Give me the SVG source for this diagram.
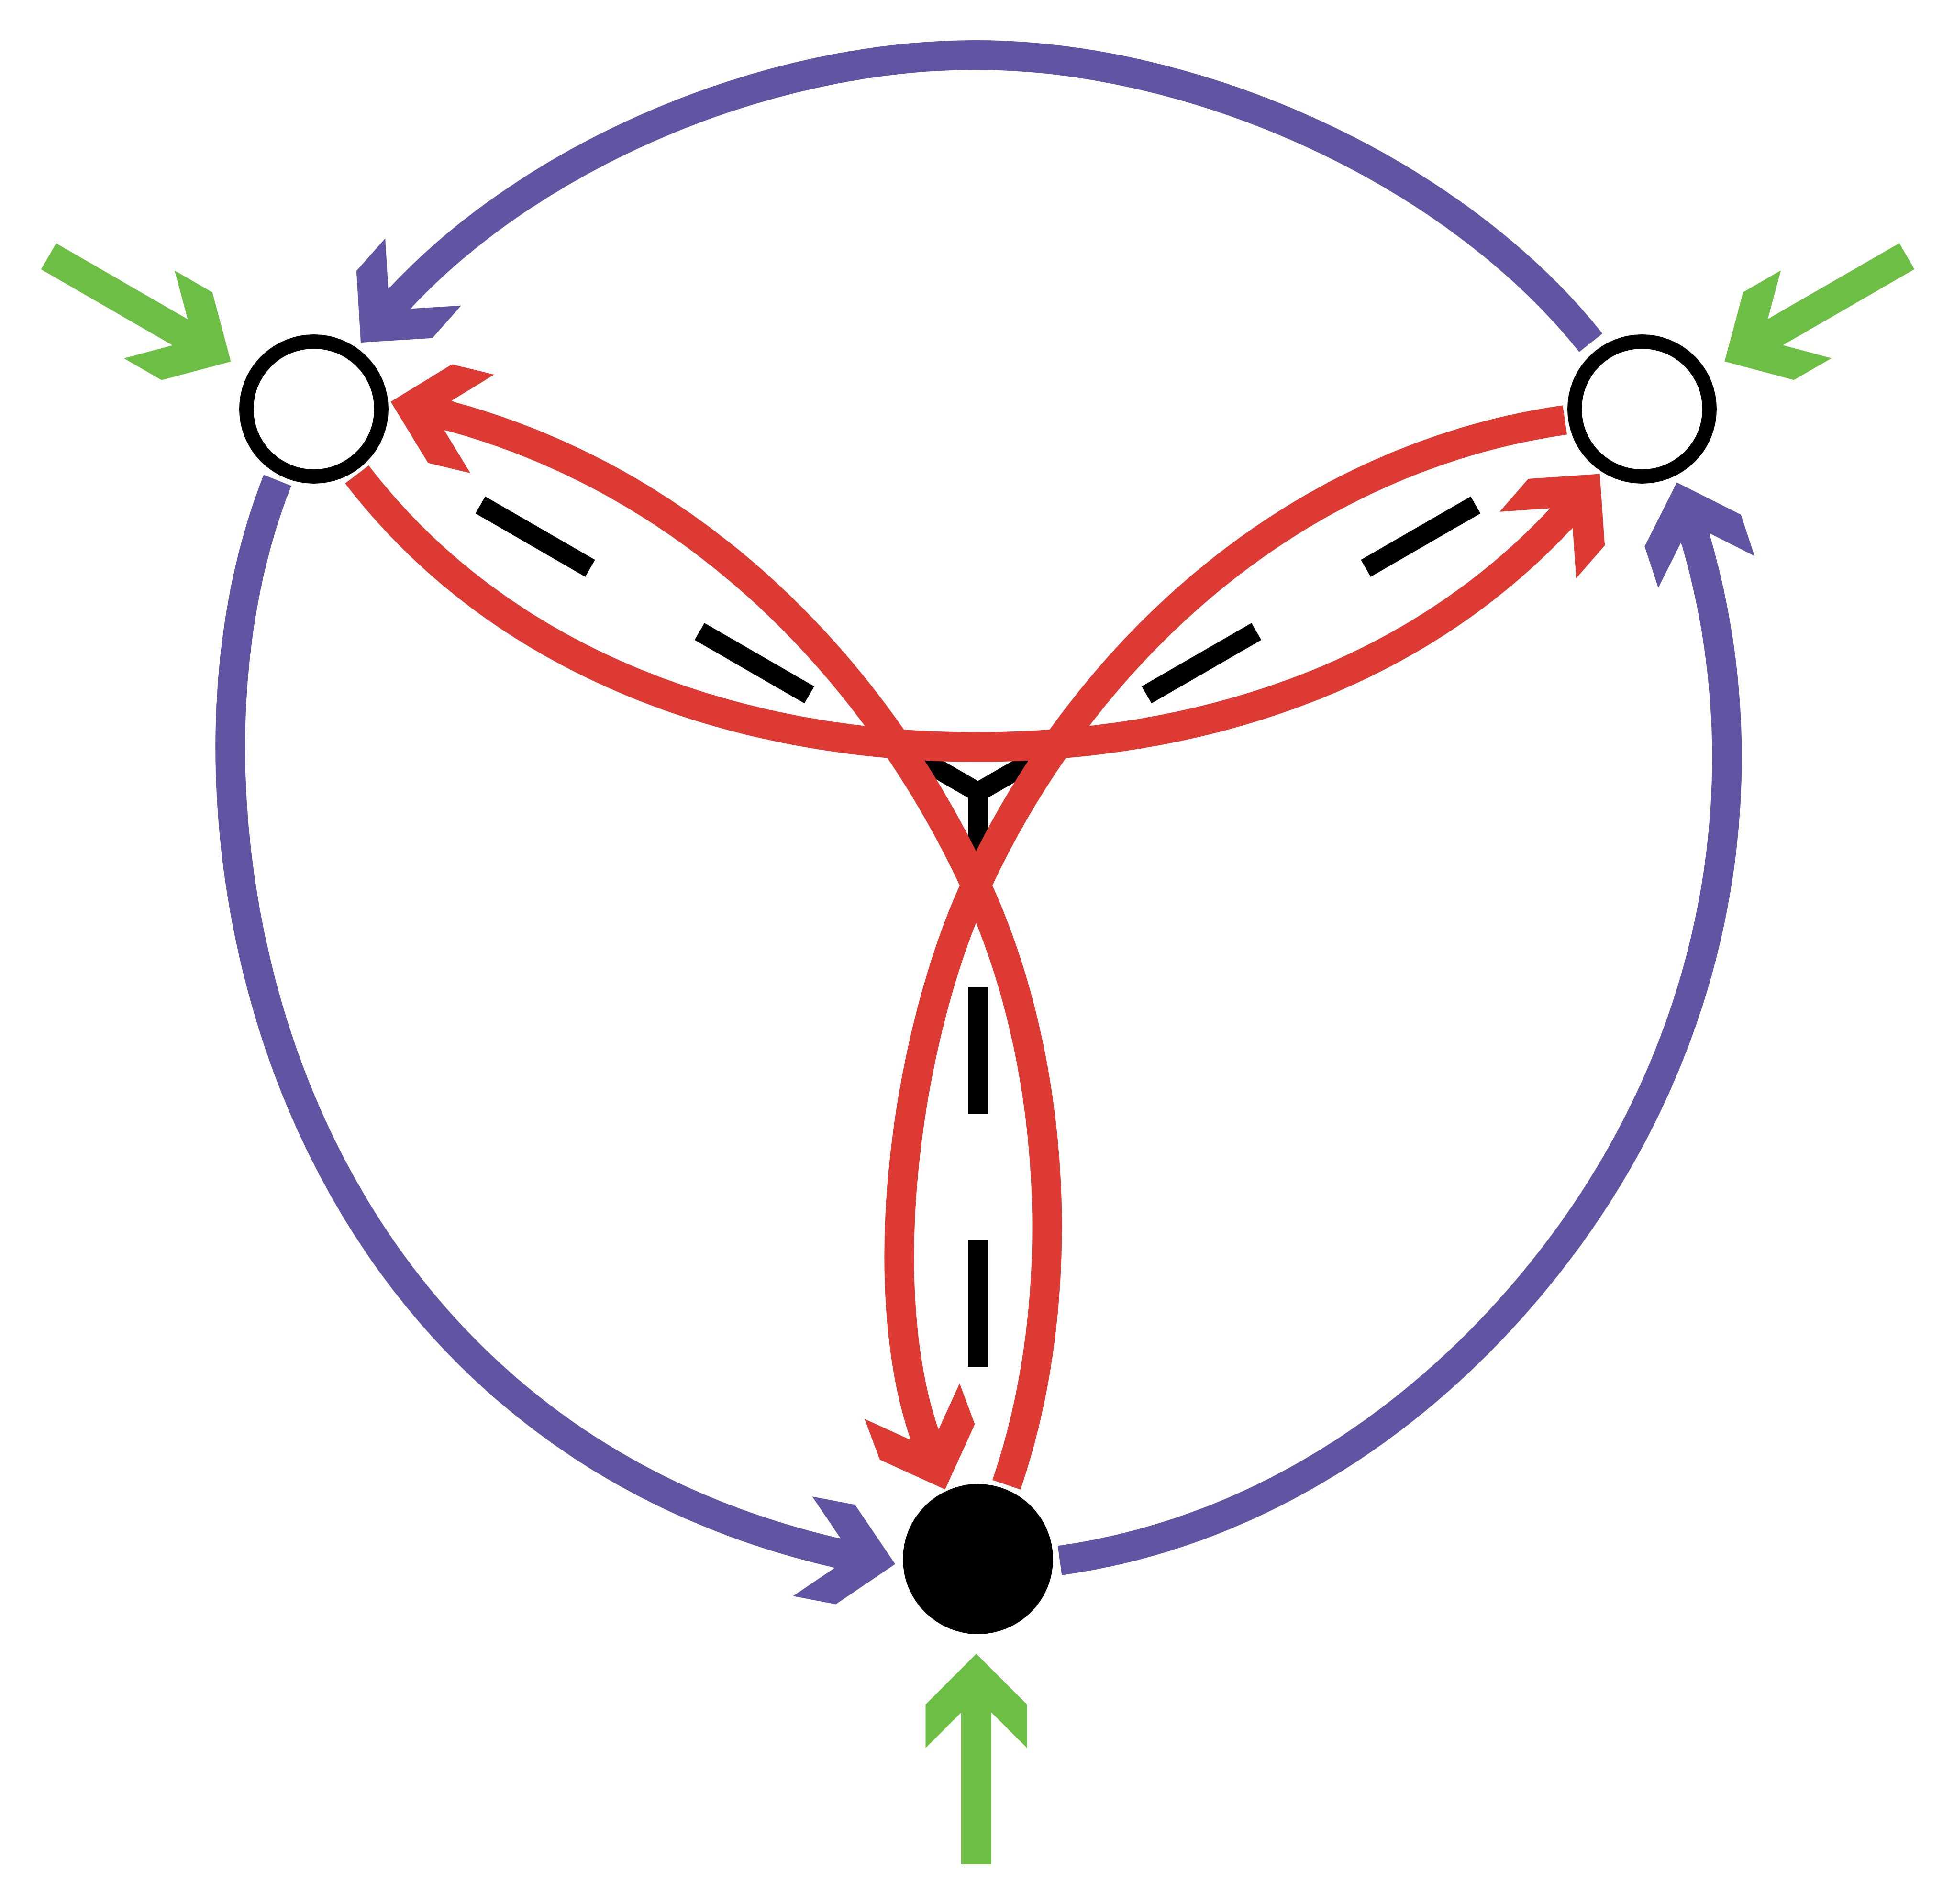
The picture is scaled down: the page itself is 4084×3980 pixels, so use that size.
<svg xmlns="http://www.w3.org/2000/svg" xmlns:xlink="http://www.w3.org/1999/xlink" width="4084" height="3980" viewBox="0 0 4084 3980">
<style>
.pu{fill:none;stroke:#5F55A3;stroke-width:62;stroke-linecap:butt}
.rd{fill:none;stroke:#DC3A32;stroke-width:62;stroke-linecap:butt}
.dash{stroke:#000;stroke-width:41;stroke-dasharray:265 264;stroke-dashoffset:122;stroke-linecap:butt}
.hpu{fill:#5F55A3}
.hrd{fill:#DC3A32}
.gr{fill:#6DBE45}
.open{fill:#fff;stroke:#000;stroke-width:30}
.filled{fill:#000}
</style>
<defs>
<polygon id="head" points="0,0 -106,106 -197,106 -122.5,31.5 -128,31.5 -128,-31.5 -122.5,-31.5 -197,-106 -106,-106"/>
<polygon id="garrow" points="0,0 -106,106 -197,106 -122.5,31.5 -440,31.5 -440,-31.5 -122.5,-31.5 -197,-106 -106,-106"/>
</defs>
<rect width="4084" height="3980" fill="#fff"/>
<g id="connectors">
<g id="dashed-lines">
<line class="dash" x1="2044" y1="1656" x2="797" y2="936"/>
<line class="dash" x1="2044" y1="1656" x2="3291" y2="936"/>
<line class="dash" x1="2044" y1="1656" x2="2044" y2="3096"/>
</g>
<g id="red-edges">
<path class="rd" d="M746,991.7 C1047.7,1386.8 1543,1561.6 2040,1561.6 C2499.4,1561.6 2950.6,1418.4 3263.6,1082.7"/>
<use xlink:href="#head" class="hrd" transform="translate(3343.6,990.6) rotate(-49)"/>
<path class="rd" d="M3270.7,877.9 C2719.7,957.5 2273.7,1345.8 2040,1850.5 C1897.2,2158.9 1821.7,2677.6 1932.5,2999.2"/>
<use xlink:href="#head" class="hrd" transform="translate(1975.3,3113.5) rotate(69.5)"/>
<path class="rd" d="M2103.6,3103.7 C2236.4,2715.8 2212.2,2222.4 2040,1850.5 C1822.2,1380.2 1436.1,1002.7 935.2,868.4"/>
<use xlink:href="#head" class="hrd" transform="translate(816.6,839.7) rotate(193.6)"/>
</g>
<g id="purple-edges">
<path class="pu" d="M3325,716.5 C3038.4,356.3 2499,115 2039,115 C1609,115 1121.2,317.4 834.8,624.6"/>
<use xlink:href="#head" class="hpu" transform="translate(754,716) rotate(131.5)"/>
<path class="pu" d="M580,1004 C421.8,1403.5 459.8,1931.9 650.2,2350.5 C836.5,2760 1187.1,3116.5 1752,3247"/>
<use xlink:href="#head" class="hpu" transform="translate(1871,3269.5) rotate(10.9)"/>
<path class="pu" d="M2215,3262 C2640.7,3202.2 3010.7,2946.3 3267,2601 C3582.9,2175.4 3693.5,1632.4 3543,1124.2"/>
<use xlink:href="#head" class="hpu" transform="translate(3504.7,1008.4) rotate(-108.3)"/>
</g>
</g>
<g id="inputs">
<use xlink:href="#garrow" class="gr" transform="translate(482.6,755.8) rotate(30)"/>
<use xlink:href="#garrow" class="gr" transform="translate(3604.5,755.5) rotate(150)"/>
<use xlink:href="#garrow" class="gr" transform="translate(2040.5,3457) rotate(-90)"/>
</g>
<g id="node-top-left"><circle class="open" cx="656" cy="855" r="141"/></g>
<g id="node-top-right"><circle class="open" cx="3432" cy="855" r="141"/></g>
<g id="node-bottom"><circle class="filled" cx="2044" cy="3259" r="157"/></g>
</svg>
